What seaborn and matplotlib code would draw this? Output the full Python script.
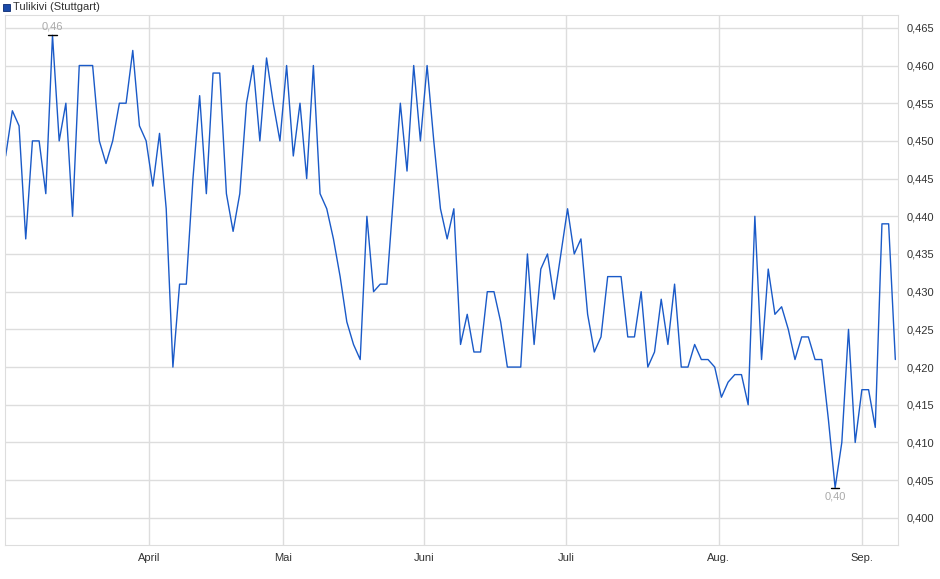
import numpy as np
import pandas as pd
import matplotlib.pyplot as plt
import seaborn as sns
from matplotlib.ticker import FuncFormatter, MultipleLocator

# Closing prices, one value per trading day
prices = [0.448, 0.454, 0.452, 0.437, 0.450, 0.450, 0.443, 0.464, 0.450, 0.455,
          0.440, 0.460, 0.460, 0.460, 0.450, 0.447, 0.450, 0.455, 0.455, 0.462,
          0.452, 0.450, 0.444, 0.451, 0.441, 0.420, 0.431, 0.431, 0.445, 0.456,
          0.443, 0.459, 0.459, 0.443, 0.438, 0.443, 0.455, 0.460, 0.450, 0.461,
          0.455, 0.450, 0.460, 0.448, 0.455, 0.445, 0.460, 0.443, 0.441, 0.437,
          0.432, 0.426, 0.423, 0.421, 0.440, 0.430, 0.431, 0.431, 0.443, 0.455,
          0.446, 0.460, 0.450, 0.460, 0.450, 0.441, 0.437, 0.441, 0.423, 0.427,
          0.422, 0.422, 0.430, 0.430, 0.426, 0.420, 0.420, 0.420, 0.435, 0.423,
          0.433, 0.435, 0.429, 0.435, 0.441, 0.435, 0.437, 0.427, 0.422, 0.424,
          0.432, 0.432, 0.432, 0.424, 0.424, 0.430, 0.420, 0.422, 0.429, 0.423,
          0.431, 0.420, 0.420, 0.423, 0.421, 0.421, 0.420, 0.416, 0.418, 0.419,
          0.419, 0.415, 0.440, 0.421, 0.433, 0.427, 0.428, 0.425, 0.421, 0.424,
          0.424, 0.421, 0.421, 0.413, 0.404, 0.410, 0.425, 0.410, 0.417, 0.417,
          0.412, 0.439, 0.439, 0.421]
month_labels = ["April", "Mai", "Juni", "Juli", "Aug.", "Sep."]
month_pos = [21.5, 41.5, 62.6, 83.8, 106.6, 128.0]

df = pd.DataFrame({"idx": np.arange(len(prices)), "price": prices})

sns.set_style("white")
plt.rcParams['font.family'] = ['Liberation Sans', 'DejaVu Sans']

fig = plt.figure(figsize=(9.4, 5.79), dpi=100)
ax = fig.add_axes([5 / 940, 1 - 545 / 579, 893 / 940, 530 / 579])

blue = "#1a5ac8"
sns.lineplot(data=df, x="idx", y="price", ax=ax, color=blue, linewidth=1)

ax.set_xlim(-0.1, len(prices) - 0.6)
ax.set_ylim(0.3964, 0.4667)
ax.yaxis.set_major_locator(MultipleLocator(0.005))
ax.yaxis.tick_right()
ax.yaxis.set_major_formatter(FuncFormatter(lambda v, p: f"{v:.3f}".replace(".", ",")))
ax.set_xticks(month_pos)
ax.set_xticklabels(month_labels)
ax.tick_params(labelsize=8, colors="#333333", length=0, pad=6)
ax.tick_params(axis="y", pad=6)
ax.grid(True, color="#dddddd", linewidth=1)
ax.set_xlabel("")
ax.set_ylabel("")
for s in ax.spines.values():
    s.set_color("#dddddd")

# max / min markers
imax = int(np.argmax(prices))
imin = int(np.argmin(prices))
for i, va, off in [(imax, "bottom", 3), (imin, "top", -3)]:
    v = prices[i]
    ax.plot([i - 0.6, i + 0.6], [v, v], color="black", linewidth=1)
    ax.annotate(f"{v:.2f}".replace(".", ","), (i, v), xytext=(0, off),
                textcoords="offset points", ha="center", va=va,
                fontsize=8, color="#aaaaaa")

# legend
fig.patches.append(plt.Rectangle((3 / 940, 1 - 11 / 579), 7 / 940, 7 / 579,
                                 transform=fig.transFigure, facecolor="#1a4aa8",
                                 edgecolor="#0a2a70", linewidth=0.6))
fig.text(13 / 940, 1 - 7.5 / 579, "Tulikivi (Stuttgart)", fontsize=8,
         color="#333333", va="center")

fig.savefig("out.png", dpi=100)
